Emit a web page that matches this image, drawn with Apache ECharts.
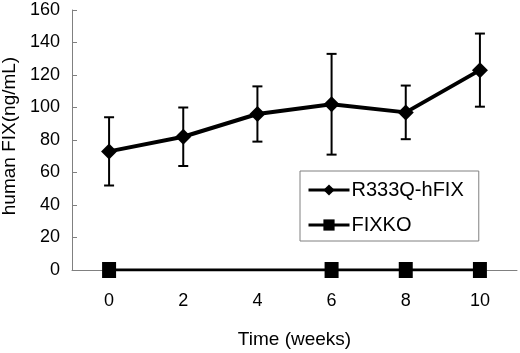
<!DOCTYPE html>
<html>
<head>
<meta charset="utf-8">
<script src="https://cdn.jsdelivr.net/npm/echarts@6/dist/echarts.min.js"></script>
<style>
  html, body { margin: 0; padding: 0; background: #fff; }
  #chart { width: 520px; height: 353px; }
</style>
</head>
<body>
<div id="chart"></div>
<script>
// weeks after treatment
const weeks = ["0", "2", "4", "6", "8", "10"];
// mean human FIX (ng/mL) and error (SD)
const hfixMean = [73, 82, 96, 102, 97, 123];
const hfixErr = [21, 18, 17, 31, 16.5, 22.5];
// knockout controls, measured at weeks 0, 6, 8, 10 only
const fixkoMean = [0, null, null, 0, 0, 0];
const yTicks = { min: 0, max: 160, interval: 20 };

const font = "'Liberation Sans', Arial, sans-serif";
const axisGray = "#808080";

const chart = echarts.init(document.getElementById("chart"));

const option = {
  animation: false,
  textStyle: { fontFamily: font, color: "#000" },
  grid: {
    left: 72, right: 3, top: 10, bottom: 83,
    containLabel: false,
    outerBoundsMode: "none",
  },
  legend: {
    orient: "vertical",
    left: 300,
    top: 171,
    padding: [9, 15, 6, 7],
    itemGap: 15,
    itemWidth: 41,
    itemHeight: 14,
    borderColor: axisGray,
    borderWidth: 1,
    borderRadius: 0,
    lineStyle: { width: 3, color: "#000" },
    textStyle: { fontFamily: font, fontSize: 20, color: "#000", padding: [0, 0, 0, -3] },
    data: ["R333Q-hFIX", "FIXKO"],
  },
  xAxis: {
    type: "category",
    data: weeks,
    boundaryGap: true,
    name: "Time (weeks)",
    nameLocation: "middle",
    nameGap: 60,
    nameTextStyle: { fontFamily: font, fontSize: 19, color: "#000" },
    axisLine: { lineStyle: { color: axisGray, width: 1 } },
    axisTick: { inside: true, length: 5, lineStyle: { color: axisGray } },
    axisLabel: { fontFamily: font, fontSize: 18, color: "#000", margin: 22 },
    splitLine: { show: false },
  },
  yAxis: {
    type: "value",
    min: yTicks.min,
    max: yTicks.max,
    interval: yTicks.interval,
    name: "human FIX(ng/mL)",
    nameLocation: "middle",
    nameGap: 50,
    nameTextStyle: { fontFamily: font, fontSize: 19, color: "#000", padding: [0, 0, 0, 8] },
    axisLine: { show: true, lineStyle: { color: axisGray, width: 1 } },
    axisTick: { show: true, inside: true, length: 5, lineStyle: { color: axisGray } },
    axisLabel: { fontFamily: font, fontSize: 18, color: "#000", margin: 12 },
    splitLine: { show: false },
  },
  series: [
    {
      name: "R333Q-hFIX",
      type: "line",
      data: hfixMean,
      symbol: "diamond",
      symbolSize: 16,
      lineStyle: { color: "#000", width: 4 },
      itemStyle: { color: "#000" },
      z: 4,
    },
    {
      name: "FIXKO",
      type: "line",
      data: fixkoMean,
      connectNulls: true,
      symbol: "rect",
      symbolSize: [14, 16],
      lineStyle: { color: "#000", width: 3 },
      itemStyle: { color: "#000" },
      z: 4,
    },
    {
      // error bars for R333Q-hFIX
      type: "custom",
      data: hfixMean.map((m, i) => [i, m - hfixErr[i], m + hfixErr[i]]),
      renderItem: (params, api) => {
        const lo = api.coord([api.value(0), api.value(1)]);
        const hi = api.coord([api.value(0), api.value(2)]);
        const half = 5;
        const style = { stroke: "#000", lineWidth: 2 };
        return {
          type: "group",
          children: [
            { type: "line", shape: { x1: hi[0], y1: hi[1], x2: lo[0], y2: lo[1] }, style },
            { type: "line", shape: { x1: hi[0] - half, y1: hi[1], x2: hi[0] + half, y2: hi[1] }, style },
            { type: "line", shape: { x1: lo[0] - half, y1: lo[1], x2: lo[0] + half, y2: lo[1] }, style },
          ],
        };
      },
      z: 2,
      silent: true,
    },
  ],
};

chart.setOption(option);
</script>
</body>
</html>
